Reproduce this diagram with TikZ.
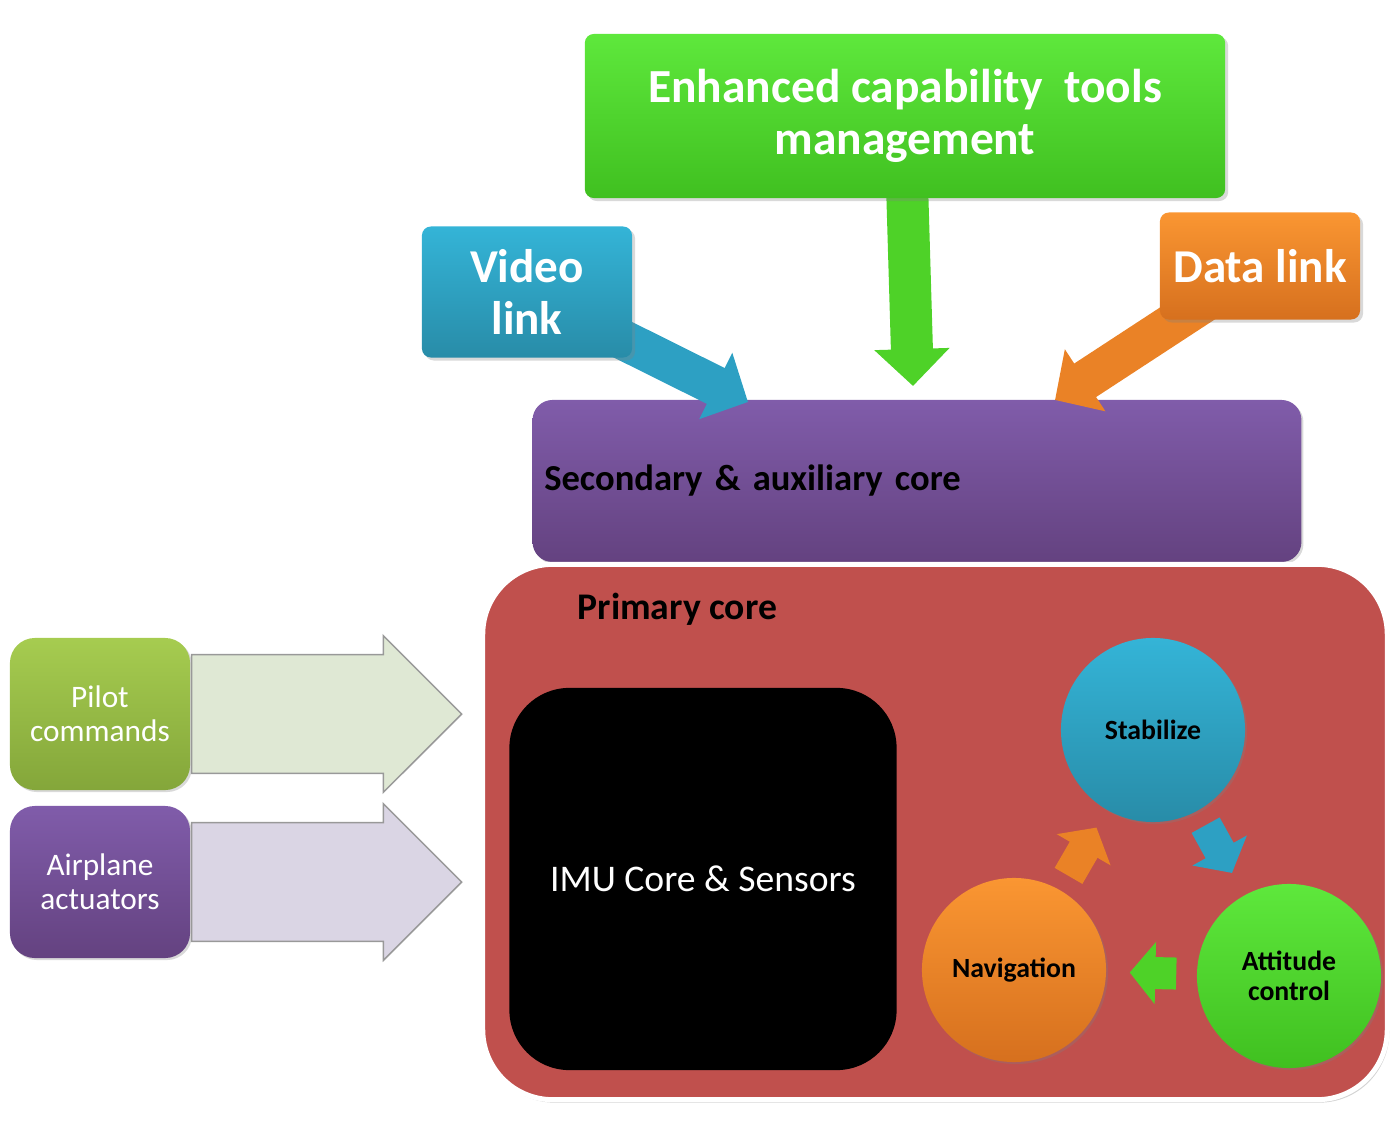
\documentclass[tikz,border=0pt]{standalone}
\usepackage{fontspec}
\setmainfont{Carlito}
\usetikzlibrary{arrows.meta,shapes.arrows,shadows}

\definecolor{toolsTop}{RGB}{94,232,60}
\definecolor{toolsBot}{RGB}{64,192,32}
\definecolor{videoTop}{RGB}{52,180,215}
\definecolor{videoBot}{RGB}{40,140,168}
\definecolor{dataTop}{RGB}{250,150,50}
\definecolor{dataBot}{RGB}{214,112,30}
\definecolor{purpleTop}{RGB}{128,92,170}
\definecolor{purpleBot}{RGB}{100,66,128}
\definecolor{coreRed}{RGB}{192,80,77}
\definecolor{pilotTop}{RGB}{166,204,80}
\definecolor{pilotBot}{RGB}{132,166,58}
\definecolor{greenArrow}{RGB}{78,210,40}
\definecolor{blueArrow}{RGB}{45,160,195}
\definecolor{orangeArrow}{RGB}{234,130,38}
\definecolor{pilotLight}{RGB}{223,232,212}
\definecolor{actLight}{RGB}{218,213,228}

\pgfdeclarelayer{cores}
\pgfdeclarelayer{links}
\pgfsetlayers{cores,links,main}

\tikzset{
  topbox/.style={rectangle, rounded corners=0.09cm, text=white, align=center, inner sep=0pt,
    drop shadow={opacity=0.3, shadow xshift=0.03cm, shadow yshift=-0.03cm}},
  sidebox/.style={rectangle, rounded corners=0.25cm, text=white, align=center, inner sep=0pt,
    minimum width=1.8cm, minimum height=1.52cm, font=\fontsize{8.9}{9.7}\selectfont,
    drop shadow={opacity=0.3, shadow xshift=0.02cm, shadow yshift=-0.02cm}},
  loopcircle/.style={circle, minimum size=1.84cm, inner sep=0pt, align=center,
    font=\bfseries\fontsize{7.9}{8.5}\selectfont,
    drop shadow={opacity=0.3, shadow xshift=0.02cm, shadow yshift=-0.02cm}},
  linkarrow/.style={line width=0.40cm, -{Triangle[length=0pt 0.9, width=0pt 1.8]}},
  looparrow/.style={line width=0.32cm, -{Triangle[length=0pt 0.8, width=0pt 1.9]}},
  lightarrow/.style={single arrow, draw=gray!80, line width=0.015cm, inner xsep=0pt,
    inner ysep=0.585cm, minimum width=1.55cm, minimum height=2.7cm,
    single arrow head extend=0.19cm, anchor=west}
}

\begin{document}
\begin{tikzpicture}[x=0.01cm, y=-0.01cm]

  \useasboundingbox (0,0) rectangle (1399,1127);

  %Cores
  \begin{pgfonlayer}{cores}
    \node (secondary) at (917,481) [rectangle, rounded corners=0.2cm, top color=purpleTop,
      bottom color=purpleBot, minimum width=7.65cm, minimum height=1.62cm, text width=7.45cm,
      align=left, font=\bfseries\fontsize{10.4}{12}\selectfont,
      drop shadow={opacity=0.3, shadow xshift=0.02cm, shadow yshift=-0.02cm}]
      {Secondary \& auxiliary core};
    \node (primary) at (935,832) [rectangle, rounded corners=0.7cm, fill=coreRed, draw=white,
      line width=0.05cm, minimum width=9.04cm, minimum height=5.35cm,
      drop shadow={opacity=0.35, shadow xshift=0.02cm, shadow yshift=-0.03cm}] {};
  \end{pgfonlayer}

  %Top boxes
  \node (tools) at (905,116) [topbox, top color=toolsTop, bottom color=toolsBot,
    minimum width=6.4cm, minimum height=1.64cm, font=\bfseries\fontsize{13.5}{14.8}\selectfont]
    {Enhanced capability\ \ tools\\management};
  \node (video) at (527,292) [topbox, top color=videoTop, bottom color=videoBot,
    minimum width=2.1cm, minimum height=1.31cm, font=\bfseries\fontsize{13.4}{14.8}\selectfont]
    {Video\\link};
  \node (data) at (1260,266) [topbox, top color=dataTop, bottom color=dataBot,
    minimum width=2.0cm, minimum height=1.07cm, font=\bfseries\fontsize{13.4}{14.8}\selectfont]
    {Data link};

  %Link arrows
  \coordinate (videotip) at (748,402);
  \coordinate (toolstip) at (913,386);
  \coordinate (datatip) at (1055,400);
  \begin{pgfonlayer}{links}
    \draw[linkarrow, draw=blueArrow] (video.center) -- (videotip);
    \draw[linkarrow, draw=greenArrow, line width=0.42cm,
      -{Triangle[length=0pt 0.88, width=0pt 1.74]}] (tools.center) -- (toolstip);
    \draw[linkarrow, draw=orangeArrow] (data.center) -- (datatip);
  \end{pgfonlayer}

  %Primary core content
  \node (primarytitle) at (577,609) [anchor=west, inner sep=0pt,
    font=\bfseries\fontsize{10.7}{12}\selectfont] {Primary core};
  \node (imu) at (703,879) [rectangle, rounded corners=0.6cm, fill=black, text=white,
    minimum width=3.87cm, minimum height=3.82cm, font=\fontsize{10.7}{12}\selectfont]
    {IMU Core \& Sensors};

  %Loop
  \node (stab) at (1153,730) [loopcircle, top color=videoTop, bottom color=videoBot] {Stabilize};
  \node (att) at (1289,976) [loopcircle, top color=toolsTop, bottom color=toolsBot] {Attitude\\control};
  \node (nav) at (1014,970) [loopcircle, top color=dataTop, bottom color=dataBot] {Navigation};
  \draw[looparrow, draw=blueArrow, shorten <=0.16cm, shorten >=0.25cm] (stab) -- (att);
  \draw[looparrow, draw=greenArrow, shorten <=0.2cm, shorten >=0.23cm] (att) -- (nav);
  \draw[looparrow, draw=orangeArrow, shorten <=0.16cm, shorten >=0.2cm] (nav) -- (stab);

  %Side inputs
  \node (pilot) at (100,714) [sidebox, top color=pilotTop, bottom color=pilotBot] {Pilot\\commands};
  \node (actuators) at (100,882) [sidebox, top color=purpleTop, bottom color=purpleBot] {Airplane\\actuators};
  \node (pilotarrow) at (pilot.east) [lightarrow, fill=pilotLight] {};
  \node (actuatorsarrow) at (actuators.east) [lightarrow, fill=actLight] {};

\end{tikzpicture}
\end{document}
